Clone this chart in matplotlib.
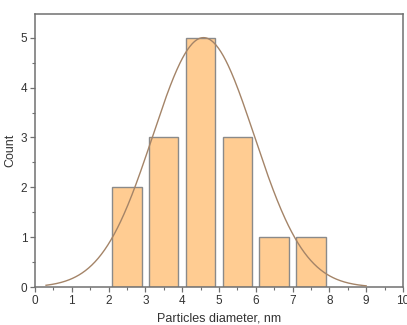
import numpy as np
import matplotlib
matplotlib.use("Agg")
import matplotlib.pyplot as plt
from matplotlib.ticker import MultipleLocator

# Data
bin_centers = [2.5, 3.5, 4.5, 5.5, 6.5, 7.5]
counts = [2, 3, 5, 3, 1, 1]
fit_mu = 4.58
fit_sigma = 1.38
fit_amp = 5.0
fit_range = (0.3, 9.0)

plt.rcParams['font.family'] = ['Liberation Sans', 'DejaVu Sans']

fig = plt.figure(figsize=(4.07, 3.25), dpi=100)
ax = fig.add_axes([0.086, 0.116, 0.904, 0.842])

ax.bar(bin_centers, counts, width=0.8, color='#FFCC92', edgecolor='#8a8a8a', linewidth=1.0, zorder=2)

xs = np.linspace(fit_range[0], fit_range[1], 400)
ys = fit_amp * np.exp(-(xs - fit_mu) ** 2 / (2 * fit_sigma ** 2))
ax.plot(xs, ys, color='#A48468', linewidth=1.0, zorder=3)

ax.set_xlim(0, 10)
ax.set_ylim(0, 5.48)
ax.xaxis.set_major_locator(MultipleLocator(1))
ax.xaxis.set_minor_locator(MultipleLocator(0.5))
ax.yaxis.set_major_locator(MultipleLocator(1))
ax.yaxis.set_minor_locator(MultipleLocator(0.5))

for s in ax.spines.values():
    s.set_color('#707070')
    s.set_linewidth(1.1)
ax.tick_params(axis='both', which='major', direction='out', length=3.5, width=0.9, color='#707070',
               labelsize=8.5, labelcolor='#333333', pad=2)
ax.tick_params(axis='both', which='minor', direction='out', length=2, width=0.8, color='#707070')

ax.set_xlabel('Particles diameter, nm', fontsize=9, color='#333333', labelpad=4)
ax.set_ylabel('Count', fontsize=9, color='#333333', labelpad=3)

fig.savefig('out.png', dpi=100)
